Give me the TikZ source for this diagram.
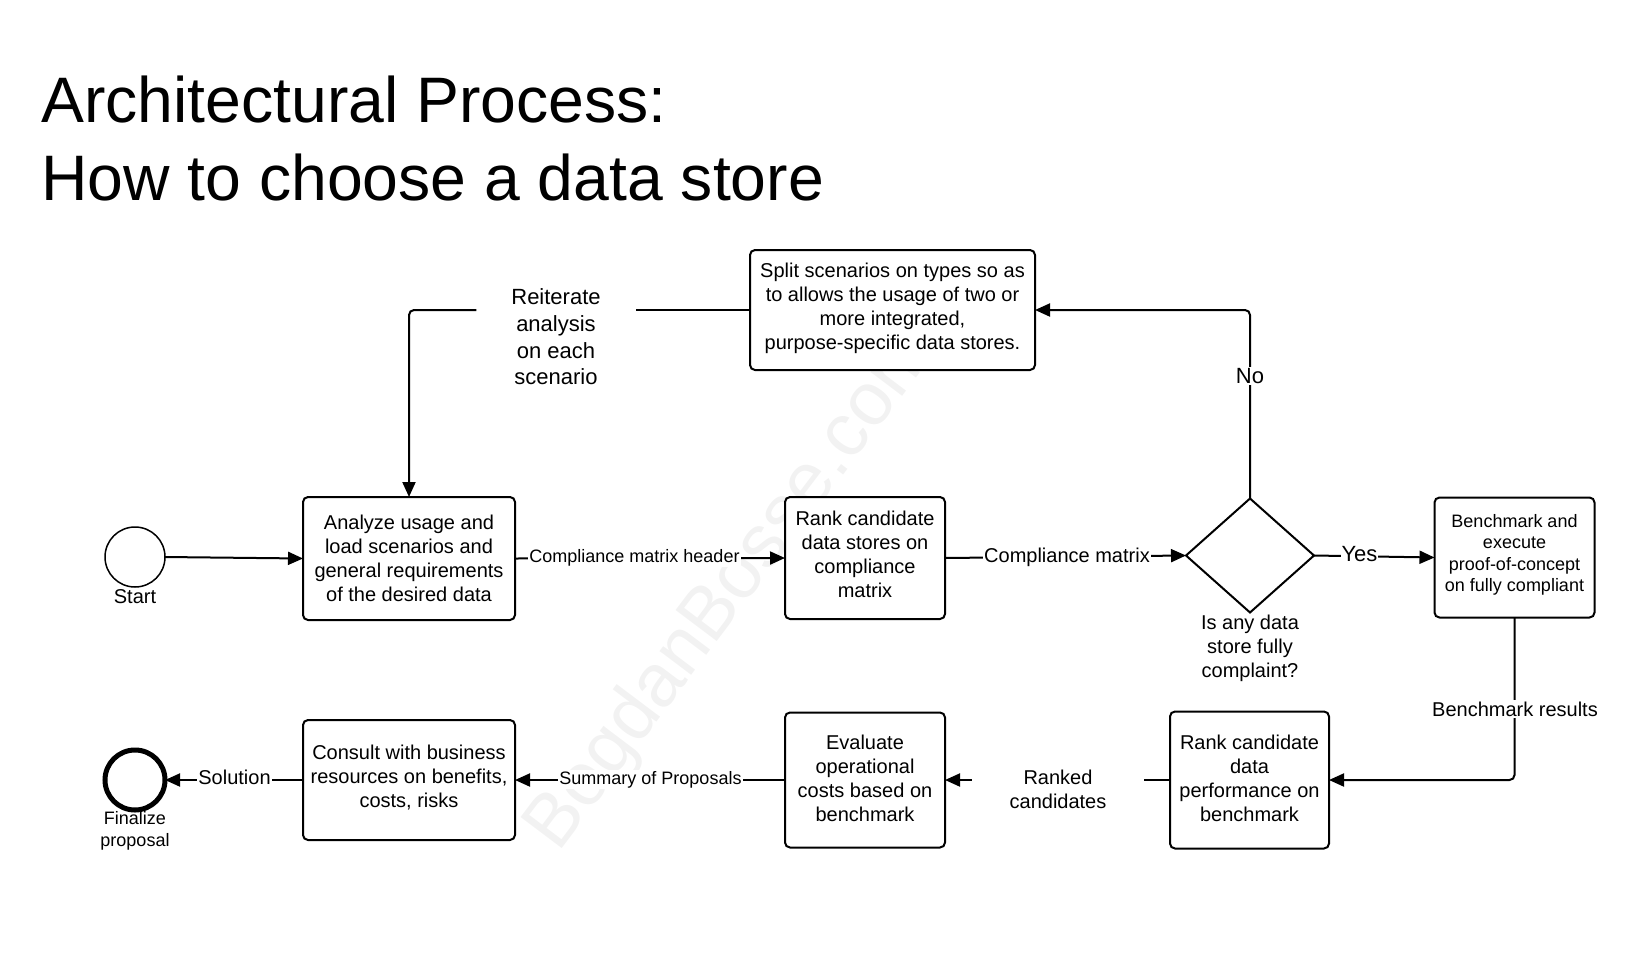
\documentclass[tikz,border=0pt]{standalone}
\usepackage{fontspec}
\setmainfont{Liberation Sans}
\usetikzlibrary{arrows.meta,shapes.geometric}

% Baja el centro de la caja para que el texto quede mas arriba
\newcommand{\lift}[1]{\rule[-#1]{0pt}{0pt}}

\begin{document}
\begin{tikzpicture}[
    x=1pt,y=-1pt,
    >={Triangle[length=15pt,width=13pt]},
    process box/.style={draw,line width=2pt,outer sep=0pt,rounded corners=5pt,fill=white,align=center,font=\fontsize{20}{24}\selectfont},
    small box/.style={process box,font=\fontsize{18}{21.5}\selectfont},
    decision/.style={draw,line width=2pt,outer sep=0pt,diamond,aspect=1.14,fill=white,minimum width=128pt,minimum height=114pt,inner sep=0pt},
    event/.style={circle,draw,line width=1.5pt,outer sep=0pt,fill=white,minimum size=60pt,inner sep=0pt},
    end event/.style={event,line width=5pt},
    plain text/.style={align=center,font=\fontsize{20}{24}\selectfont,inner sep=0pt},
    flow label/.style={fill=white,inner sep=1pt,font=\fontsize{20}{24}\selectfont},
    flow/.style={line width=2pt,rounded corners=5pt}
]
\useasboundingbox (0,0) rectangle (1638,974);

% Marca de agua
\node[rotate=53,text=black!5,font=\fontsize{75}{84}\selectfont] (watermark) at (732,590) {BogdanBosse.com};

% Titulo
\node[anchor=west,align=left,inner sep=0pt,font=\fontsize{64.3}{78}\selectfont] (title) at (41,139) {Architectural Process:\\How to choose a data store};

% Cajas
\node[process box,minimum width=285pt,minimum height=120pt] (split) at (892.5,310) {Split scenarios on types so as\\to allows the usage of two or\\more integrated,\\purpose-specific data stores.\lift{7pt}};
\node[process box,minimum width=212pt,minimum height=123pt] (analyze) at (409,558.5) {Analyze usage and\\load scenarios and\\general requirements\\of the desired data};
\node[process box,minimum width=160pt,minimum height=122pt] (rankstores) at (865,558) {Rank candidate\\data stores on\\compliance\\matrix\lift{7pt}};
\node[small box,minimum width=160pt,minimum height=120pt] (benchmark) at (1514.5,557.5) {Benchmark and\\execute\\proof-of-concept\\on fully compliant\lift{9pt}};
\node[process box,minimum width=159pt,minimum height=137pt] (rankperf) at (1249.5,780) {Rank candidate\\data\\performance on\\benchmark\lift{4pt}};
\node[process box,minimum width=160pt,minimum height=135pt] (evaluate) at (865,780) {Evaluate\\operational\\costs based on\\benchmark\lift{4pt}};
\node[process box,minimum width=212pt,minimum height=120pt] (consult) at (409,780) {Consult with business\\resources on benefits,\\costs, risks\lift{7pt}};

% Decision
\node[decision] (check) at (1250,555.5) {};
\node[plain text] (checktext) at (1250,648) {Is any data\\store fully\\complaint?};

% Eventos
\node[event] (start) at (135,557) {};
\node[plain text] (starttext) at (135,597) {Start};
\node[end event] (finish) at (135,780) {};
\node[plain text,font=\fontsize{18}{22}\selectfont] (finishtext) at (135,831) {Finalize\\proposal};

% Textos intermedios
\node[plain text,minimum width=159pt,font=\fontsize{22}{26.7}\selectfont] (reiterate) at (556,337) {Reiterate\\analysis\\on each\\scenario};
\node[plain text,minimum width=172pt] (ranked) at (1058,789) {Ranked\\candidates};

% Conectores
\draw[flow,->] (start.east) -- (analyze.west);
\draw[flow,->] (analyze.east) -- (rankstores.west);
\draw[flow,->] (rankstores.east) -- (check.west);
\draw[flow,->] (check.east) -- (benchmark.west);
\draw[flow,->] (check.north) |- (split.east);
\draw[flow] (split.west) -- (reiterate.east |- split.west);
\draw[flow,->] (reiterate.west |- split.west) -| (analyze.north);
\draw[flow,->] (benchmark.south) |- (rankperf.east);
\draw[flow] (rankperf.west) -- (ranked.east |- rankperf.west);
\draw[flow,->] (ranked.west |- rankperf.west) -- (evaluate.east);
\draw[flow,->] (evaluate.west) -- (consult.east);
\draw[flow,->] (consult.west) -- (finish.east);

% Etiquetas de conectores
\node[flow label,font=\fontsize{18}{22}\selectfont] (headerlabel) at (634.5,558) {Compliance matrix header};
\node[flow label] (matrixlabel) at (1067,557) {Compliance matrix};
\node[flow label,font=\fontsize{22}{26}\selectfont] (yeslabel) at (1359.5,554) {Yes};
\node[flow label,font=\fontsize{22}{26}\selectfont] (nolabel) at (1250,376) {No};
\node[flow label,inner sep=2pt] (resultslabel) at (1515,709) {Benchmark results};
\node[flow label,font=\fontsize{18}{22}\selectfont] (summarylabel) at (650.5,779.5) {Summary of Proposals};
\node[flow label] (solutionlabel) at (234.5,777) {Solution};

\end{tikzpicture}
\end{document}
